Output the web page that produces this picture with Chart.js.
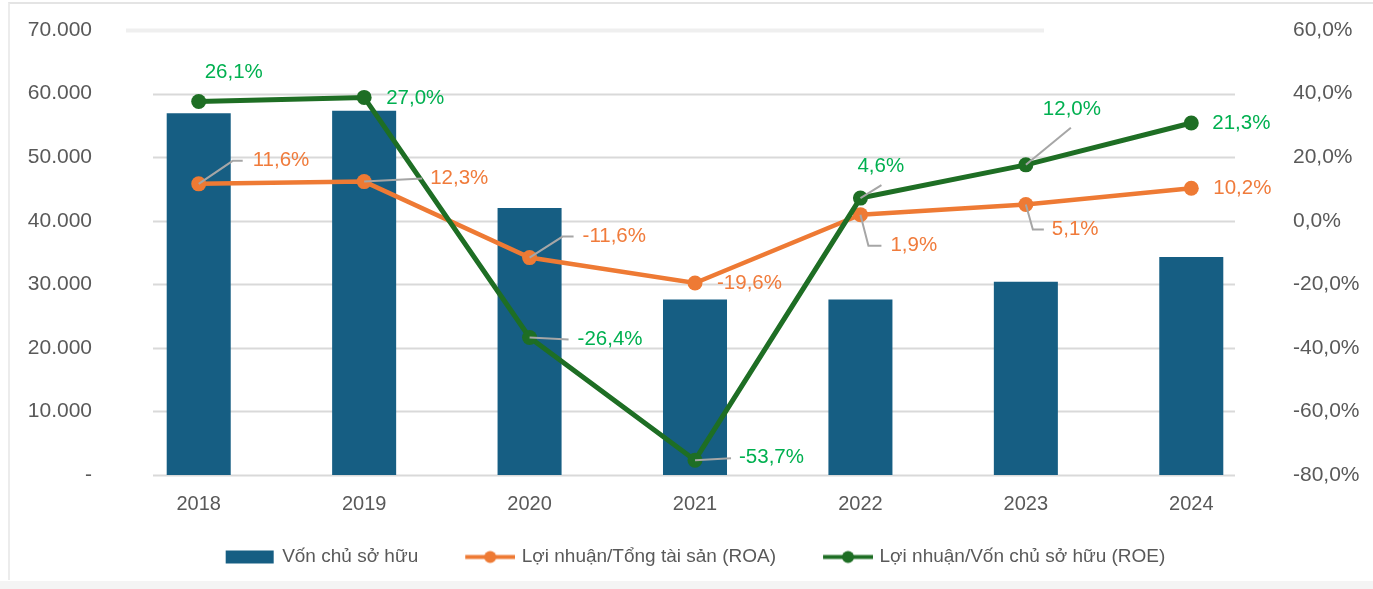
<!DOCTYPE html>
<html>
<head>
<meta charset="utf-8">
<script src="https://cdn.jsdelivr.net/npm/chart.js@4.4.1/dist/chart.umd.min.js"></script>
<style>
  html, body { margin: 0; padding: 0; background: #ffffff; }
  #wrap { position: relative; width: 1373px; height: 589px; overflow: hidden; }
  #frame { position: absolute; left: 8px; top: 2px; width: 1365px; height: 578px;
           border-top: 2px solid #e4e4e4; border-left: 2px solid #ececec; box-sizing: border-box; }
  #bottomband { position: absolute; left: 0; top: 581px; width: 1373px; height: 8px; background: #f4f4f4; }
  canvas { position: absolute; left: 0; top: 0; }
</style>
</head>
<body>
<div id="wrap">
  <div id="frame"></div>
  <div id="bottomband"></div>
  <canvas id="c" width="1373" height="589"></canvas>
</div>
<script>
// ---- data ----
const years = ['2018', '2019', '2020', '2021', '2022', '2023', '2024'];
const equity = [56900, 57300, 42000, 27600, 27600, 30400, 34300];
const roa = [11.6, 12.3, -11.6, -19.6, 1.9, 5.1, 10.2];
const roe = [26.1, 27.0, -26.4, -53.7, 4.6, 12.0, 21.3];
const seriesNames = ['Vốn chủ sở hữu', 'Lợi nhuận/Tổng tài sản (ROA)', 'Lợi nhuận/Vốn chủ sở hữu (ROE)'];
const leftTickValues = [0, 10000, 20000, 30000, 40000, 50000, 60000, 70000];
const rightTickValues = [-80, -60, -40, -20, 0, 20, 40, 60];

// ---- styles ----
const FONT = "'Liberation Sans', Arial, sans-serif";
const C_BAR = '#165E83';
const C_ROA = '#EE7A34';
const C_ROE = '#1E6E24';
const C_ROA_TXT = '#F07B3B';
const C_ROE_TXT = '#00B050';
const C_TICK = '#595959';
const C_GRID = '#d9d9d9';

// label placement (pixel offsets relative to each point) - styling only
const labelLayout = {
  1: { color: C_ROA_TXT,
       offsets: [[54,-23],[66,-3],[53,-21],[22,0],[30,31],[26,25],[22,0]],
       leaders: [[[0,0],[34,-23],[44,-23]], [[0,0],[58,-3]], [[0,0],[33,-21],[44,-21]], null,
                 [[0,0],[8,31],[21,31]], [[0,0],[7,25],[18,25]], null] },
  2: { color: C_ROE_TXT,
       offsets: [[6,-29],[22,1],[48,2],[44,-3],[-3,-32],[17,-56],[21,0]],
       leaders: [null, null, [[0,0],[39,2]], [[0,0],[36,-2]], [[0,0],[21,-13]], [[0,0],[45,-37]], null] }
};

function fmtThousands(v) {
  if (v === 0) return '-';
  return String(v).replace(/\B(?=(\d{3})+(?!\d))/g, '.');
}
function fmtPct(v) { return v.toFixed(1).replace('.', ',') + '%'; }

// legend glyphs as canvases (left transparent margin acts as item gap)
const GAP = 34, GW = 50, GH = 20, EXT = 3;
const BOXW = GAP + GW;
function glyph(kind, color) {
  const cv = document.createElement('canvas');
  cv.width = BOXW + 2 * EXT; cv.height = GH;
  const g = cv.getContext('2d');
  const x0 = cv.width - GW;
  if (kind === 'bar') {
    g.fillStyle = color;
    g.fillRect(x0, 4, 48, 13);
  } else {
    g.strokeStyle = color; g.lineWidth = 4;
    g.beginPath(); g.moveTo(x0, 10.5); g.lineTo(x0 + GW, 10.5); g.stroke();
    g.fillStyle = color;
    g.beginPath(); g.arc(x0 + GW / 2, 10.5, 6, 0, Math.PI * 2); g.fill();
  }
  return cv;
}
const legendGlyphs = [glyph('bar', C_BAR), glyph('line', C_ROA), glyph('line', C_ROE)];

const gridPlugin = {
  id: 'customGrid',
  beforeDatasetsDraw(chart) {
    const { ctx, chartArea, scales } = chart;
    const y = scales.y;
    const x0 = chartArea.left + 37, x1 = chartArea.right - 39;
    ctx.save();
    leftTickValues.forEach(v => {
      const py = Math.round(y.getPixelForValue(v)) + 0.5;
      const top = v === 70000;
      ctx.strokeStyle = top ? '#efefef' : C_GRID;
      ctx.lineWidth = top ? 4 : 2;
      ctx.beginPath();
      ctx.moveTo(top ? chartArea.left + 10 : x0, py);
      ctx.lineTo(top ? chartArea.right - 230 : x1, py);
      ctx.stroke();
    });
    ctx.restore();
  }
};

const labelPlugin = {
  id: 'pointLabels',
  afterDatasetsDraw(chart) {
    const { ctx } = chart;
    ctx.save();
    [1, 2].forEach(di => {
      const meta = chart.getDatasetMeta(di);
      const lay = labelLayout[di];
      const vals = chart.data.datasets[di].data;
      meta.data.forEach((pt, i) => {
        const px = pt.x, py = pt.y;
        const ld = lay.leaders[i];
        if (ld) {
          ctx.strokeStyle = '#a6a6a6';
          ctx.lineWidth = 2;
          ctx.beginPath();
          ld.forEach((p, k) => {
            if (k === 0) ctx.moveTo(px + p[0], py + p[1]);
            else ctx.lineTo(px + p[0], py + p[1]);
          });
          ctx.stroke();
        }
        const o = lay.offsets[i];
        ctx.fillStyle = lay.color;
        ctx.font = '20.5px ' + FONT;
        ctx.textAlign = 'left';
        ctx.textBaseline = 'middle';
        ctx.fillText(fmtPct(vals[i]), px + o[0], py + o[1]);
      });
    });
    ctx.restore();
  }
};

new Chart(document.getElementById('c'), {
  data: {
    labels: years,
    datasets: [
      { type: 'bar', label: seriesNames[0], data: equity, yAxisID: 'y',
        backgroundColor: C_BAR, barPercentage: 0.387, categoryPercentage: 1, order: 3 },
      { type: 'line', label: seriesNames[1], data: roa, yAxisID: 'y2',
        borderColor: C_ROA, backgroundColor: C_ROA, borderWidth: 4.5, pointRadius: 7.5,
        pointBackgroundColor: C_ROA, pointBorderWidth: 0, tension: 0, order: 2 },
      { type: 'line', label: seriesNames[2], data: roe, yAxisID: 'y3',
        borderColor: C_ROE, backgroundColor: C_ROE, borderWidth: 5, pointRadius: 7.5,
        pointBackgroundColor: C_ROE, pointBorderWidth: 0, tension: 0, order: 1 }
    ]
  },
  options: {
    responsive: false,
    animation: false,
    devicePixelRatio: 1,
    layout: { autoPadding: false, padding: { left: 20, right: 39, top: 30, bottom: 13 } },
    font: { family: FONT },
    plugins: {
      tooltip: { enabled: false },
      legend: {
        position: 'bottom',
        labels: {
          usePointStyle: true,
          pointStyleWidth: BOXW,
          padding: 10,
          color: C_TICK,
          font: { family: FONT, size: 19 },
          generateLabels(chart) {
            return chart.data.datasets.map((ds, i) => ({
              text: ds.label, pointStyle: legendGlyphs[i], rotation: 0,
              fillStyle: 'transparent', strokeStyle: 'transparent', lineWidth: 0,
              fontColor: C_TICK, hidden: false, datasetIndex: i
            }));
          }
        }
      }
    },
    scales: {
      x: {
        offset: true,
        grid: { display: false, drawTicks: false },
        border: { display: false },
        ticks: { color: C_TICK, font: { family: FONT, size: 20 }, padding: 17 },
        afterFit(s) { s.height = 62; }
      },
      y: {
        position: 'left', min: 0, max: 70000,
        grid: { display: false, drawTicks: false },
        border: { display: false },
        afterBuildTicks(s) { s.ticks = leftTickValues.map(v => ({ value: v })); },
        ticks: { color: C_TICK, font: { family: FONT, size: 21 }, padding: 24,
                 callback: v => fmtThousands(v) },
        afterFit(s) { s.width = 96; s.paddingTop = 12; s.paddingBottom = 12; }
      },
      y2: {
        position: 'right', min: -80, max: 60,
        grid: { display: false, drawTicks: false },
        border: { display: false },
        afterBuildTicks(s) { s.ticks = rightTickValues.map(v => ({ value: v })); },
        ticks: { color: C_TICK, font: { family: FONT, size: 21 }, padding: 19,
                 callback: v => fmtPct(v) },
        afterFit(s) {
          s.width = 60; s.paddingTop = 12; s.paddingBottom = 12;
          s._computeLabelArea = () => undefined;
        }
      },
      y3: { display: false, min: -57, max: 42 }
    }
  },
  plugins: [gridPlugin, labelPlugin]
});
</script>
</body>
</html>
